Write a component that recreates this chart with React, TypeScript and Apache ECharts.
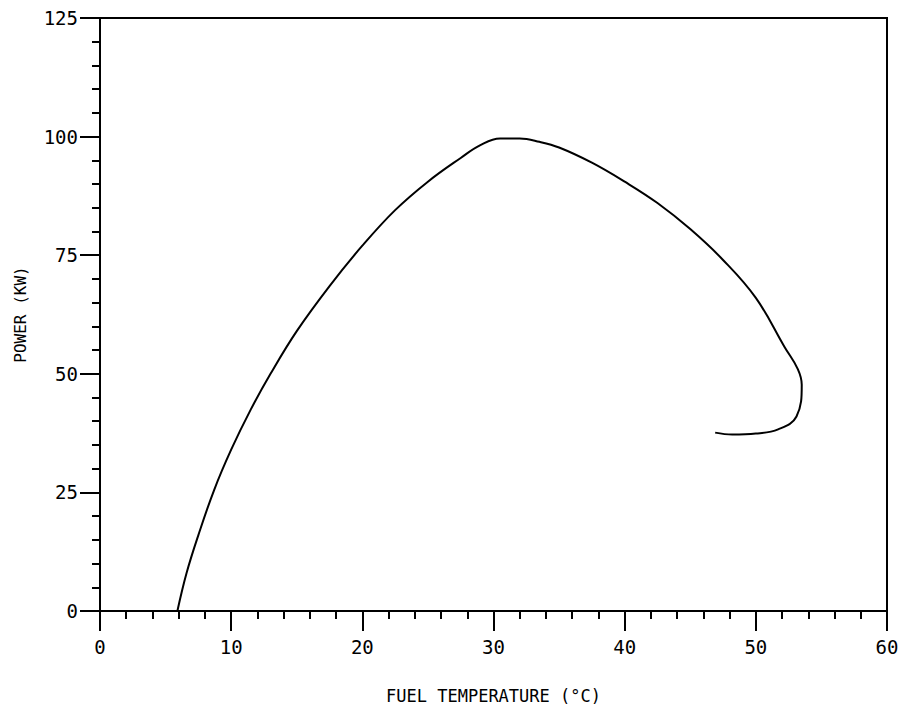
import React, { useEffect, useRef } from "react";
import * as echarts from "echarts";

const xTicks = [0, 10, 20, 30, 40, 50, 60];
const yTicks = [0, 25, 50, 75, 100, 125];
const fuelTemp = [5.9, 6.6, 7.5, 8.7, 10.0, 11.5, 13.0, 15.0, 17.5, 20.0, 22.5, 25.0, 27.5, 29.0, 30.5, 32.0, 33.5, 35.0, 37.5, 40.0, 42.5, 45.0, 47.5, 50.0, 52.2, 53.2, 53.5, 53.1, 51.7, 50.0, 48.2, 46.9];
const power = [0, 8, 16, 25.5, 34, 42.5, 50, 59, 68.5, 77, 84.5, 90.5, 95.5, 98.2, 99.6, 99.6, 98.9, 97.7, 94.5, 90.5, 86, 80.5, 74, 66, 55.6, 51, 47.7, 41, 38.3, 37.4, 37.2, 37.6];

export default function App() {
  const ref = useRef<HTMLDivElement>(null);
  useEffect(() => {
    if (!ref.current) return;
    const chart = echarts.init(ref.current, null, { renderer: "svg" });
    const font = "DejaVu Sans Mono";
    chart.setOption({
      animation: false,
      backgroundColor: "#ffffff",
      grid: {
        left: 100,
        right: 18,
        top: 18,
        bottom: 93,
        show: true,
        borderColor: "#000",
        borderWidth: 2,
      },
      xAxis: {
        type: "value",
        min: 0,
        max: 60,
        interval: 10,
        name: "FUEL TEMPERATURE (°C)",
        nameLocation: "middle",
        nameGap: 76,
        nameTextStyle: { fontFamily: font, fontSize: 17, color: "#000" },
        axisLine: { lineStyle: { color: "#000", width: 2 } },
        axisTick: { show: true, length: 20, lineStyle: { color: "#000", width: 2 } },
        minorTick: { show: true, splitNumber: 5, length: 8, lineStyle: { color: "#000", width: 2 } },
        splitLine: { show: false },
        axisLabel: {
          fontFamily: font,
          fontSize: 19,
          color: "#000",
          margin: 26,
          formatter: (v: number) => (xTicks.includes(v) ? String(v) : ""),
        },
      },
      yAxis: {
        type: "value",
        min: 0,
        max: 125,
        interval: 25,
        name: "POWER (KW)",
        nameLocation: "middle",
        nameGap: 72,
        nameTextStyle: { fontFamily: font, fontSize: 16, color: "#000" },
        axisLine: { lineStyle: { color: "#000", width: 2 } },
        axisTick: { show: true, length: 20, lineStyle: { color: "#000", width: 2 } },
        minorTick: { show: true, splitNumber: 5, length: 8, lineStyle: { color: "#000", width: 2 } },
        splitLine: { show: false },
        axisLabel: {
          fontFamily: font,
          fontSize: 19,
          color: "#000",
          margin: 22,
          formatter: (v: number) => (yTicks.includes(v) ? String(v) : ""),
        },
      },
      series: [
        {
          type: "line",
          data: fuelTemp.map((x, i) => [x, power[i]]),
          smooth: 0.4,
          showSymbol: false,
          lineStyle: { color: "#000", width: 2 },
        },
      ],
    });
    return () => chart.dispose();
  }, []);
  return <div ref={ref} style={{ width: 905, height: 709, position: "absolute", left: 0, top: 0 }} />;
}
